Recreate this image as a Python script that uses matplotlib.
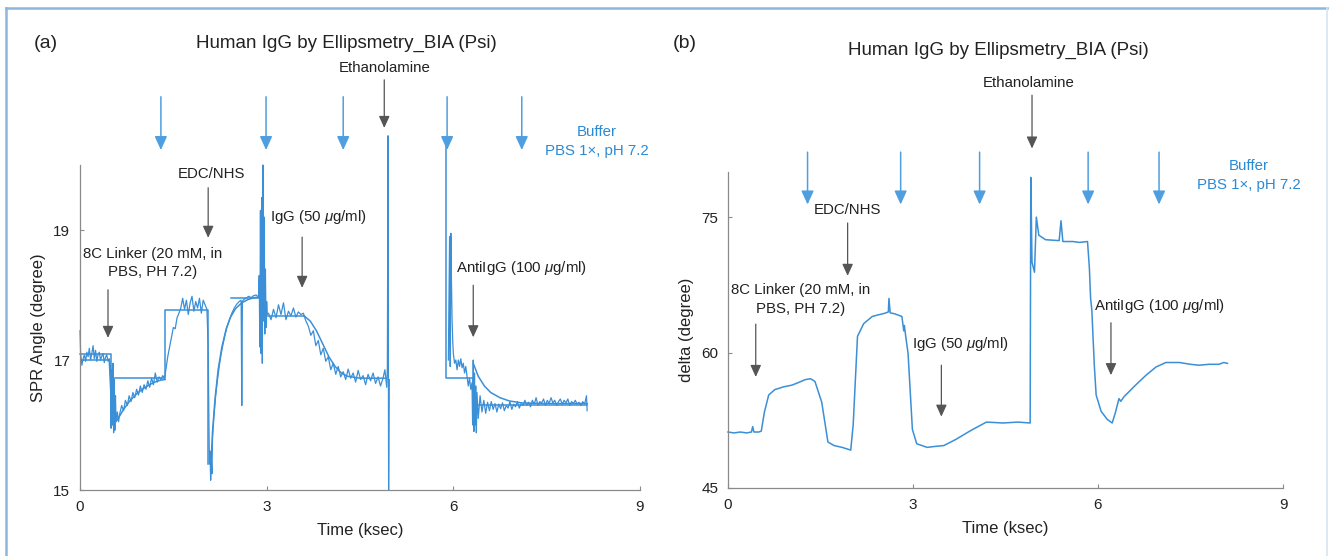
import numpy as np
import matplotlib
matplotlib.use("Agg")
import matplotlib.pyplot as plt

plt.rcParams['font.family'] = ['Liberation Sans', 'DejaVu Sans']
plt.rcParams['mathtext.fontset'] = 'custom'
plt.rcParams['mathtext.rm'] = 'Liberation Sans'
plt.rcParams['mathtext.it'] = 'Liberation Sans:italic'

nan = np.nan

# ---- panel (a): SPR angle, raw trace ----
raw_a_x = [0.00, 0.01, 0.03, 0.05, 0.07, 0.09, 0.11, 0.13, 0.15, 0.17, 0.19, 0.21, 0.23, 0.25, 0.27, 0.29,
           0.31, 0.33, 0.35, 0.37, 0.39, 0.41, 0.43, 0.45, 0.47,
           0.49, 0.50, 0.51, 0.52, 0.53, 0.54, 0.55, 0.56, 0.57, 0.58, 0.60, 0.62,
           0.64, 0.67, 0.70, 0.73, 0.76, 0.79, 0.82, 0.85, 0.88, 0.91, 0.94, 0.97, 1.00, 1.03, 1.06, 1.09,
           1.12, 1.15, 1.18, 1.21, 1.24, 1.27, 1.30, 1.33, 1.36,
           1.38, 1.41, 1.44, 1.47, 1.50, 1.53, 1.56, 1.59, 1.62, 1.65, 1.68, 1.71, 1.74, 1.77, 1.80, 1.83,
           1.86, 1.89, 1.92, 1.95, 1.98, 2.01, 2.04,
           2.06, 2.07, 2.08, 2.09, 2.10, 2.11, 2.12, 2.13, 2.15,
           2.18, 2.21, 2.24, 2.27, 2.30, 2.33, 2.36, 2.40, 2.44, 2.48, 2.52, 2.56, 2.59, 2.60, 2.61, 2.63,
           2.67, 2.71, 2.75, 2.79, 2.83, 2.87,
           2.88, 2.89, 2.90, 2.91, 2.92, 2.93, 2.94, 2.95, 2.96, 2.97, 2.98, 2.99, 3.00, 3.01,
           3.03, 3.07, 3.11, 3.15, 3.19, 3.23, 3.27, 3.31, 3.35, 3.39, 3.43, 3.47, 3.51, 3.55, 3.59, 3.63,
           3.67, 3.71, 3.75, 3.79, 3.83, 3.87, 3.91, 3.95, 3.99, 4.03, 4.07, 4.11, 4.15, 4.19, 4.23, 4.27,
           4.31, 4.35, 4.39, 4.43, 4.47, 4.51, 4.55, 4.59, 4.63, 4.67, 4.71, 4.75, 4.79, 4.83, 4.87, 4.90,
           4.93, 4.94, 4.95, 4.96, 4.97, nan,
           5.92, 5.94, 5.95, 5.96, 5.97, 5.98, 5.99, 6.00, 6.02, 6.04, 6.06, 6.08, 6.10, 6.12, 6.14, 6.16,
           6.18, 6.20, 6.22, 6.24, 6.26, 6.28, 6.30, 6.31, 6.32, 6.33, 6.34, 6.35, 6.36, 6.37, 6.38, 6.40,
           6.43, 6.46, 6.49, 6.52, 6.55, 6.58, 6.61, 6.64, 6.67, 6.70, 6.73, 6.76, 6.79, 6.82, 6.85, 6.88,
           6.91, 6.94, 6.97, 7.00, 7.03, 7.06, 7.09, 7.12, 7.15, 7.18, 7.21, 7.24, 7.27, 7.30, 7.33, 7.36,
           7.39, 7.42, 7.45, 7.48, 7.51, 7.54, 7.57, 7.60, 7.63, 7.66, 7.69, 7.72, 7.75, 7.78, 7.81, 7.84,
           7.87, 7.90, 7.93, 7.96, 7.99, 8.02, 8.05, 8.08, 8.11, 8.14, 8.15]
raw_a_y = [17.45, 17.10, 16.92, 17.02, 17.08, 16.98, 17.12, 17.05, 17.18, 17.00, 17.10, 17.22, 17.02, 17.15, 16.98, 17.08,
           17.12, 17.00, 17.06, 17.10, 16.96, 17.04, 17.08, 16.98, 17.02,
           16.90, 15.95, 16.85, 16.05, 16.95, 15.88, 16.70, 15.92, 16.45, 16.05, 16.20, 16.05,
           16.18, 16.30, 16.22, 16.38, 16.30, 16.45, 16.36, 16.50, 16.42, 16.55, 16.46, 16.60, 16.50, 16.62, 16.55, 16.68,
           16.58, 16.72, 16.62, 16.80, 16.66, 16.74, 16.70, 16.76, 16.72,
           16.85, 17.05, 17.20, 17.35, 17.50, 17.48, 17.65, 17.72, 17.80, 17.95, 17.78, 17.92, 17.70, 17.88, 17.98, 17.75,
           17.90, 17.80, 17.95, 17.72, 17.92, 17.85, 17.78,
           17.20, 16.20, 15.40, 15.60, 15.15, 15.50, 15.25, 15.80, 16.10,
           16.45, 16.70, 16.92, 17.10, 17.25, 17.38, 17.50, 17.62, 17.72, 17.80, 17.86, 17.90, 17.92, 16.30, 17.90, 17.93,
           17.95, 17.98, 17.96, 17.99, 18.00, 17.97,
           18.30, 17.20, 19.30, 17.10, 19.50, 16.95, 20.00, 17.60, 19.20, 17.40, 18.40, 17.50, 17.90, 17.70,
           17.72, 17.62, 17.78, 17.65, 17.85, 17.70, 17.88, 17.62, 17.75, 17.68, 17.80, 17.66, 17.74, 17.70, 17.72, 17.60,
           17.52, 17.38, 17.45, 17.22, 17.30, 17.08, 17.18, 16.98, 17.05, 16.85, 16.95, 16.78, 16.90, 16.74, 16.82, 16.70,
           16.86, 16.72, 16.80, 16.66, 16.84, 16.70, 16.76, 16.62, 16.78, 16.68, 16.80, 16.64, 16.74, 16.60, 16.72, 16.85,
           16.58, 16.90, 20.45, 15.00, 16.70, nan,
           17.00, 18.90, 16.90, 18.95, 18.20, 17.60, 17.30, 17.10, 16.95, 17.00, 16.85, 17.00, 16.90, 17.02, 16.88, 16.95,
           16.80, 16.90, 16.75, 16.60, 16.72, 16.55, 16.65, 16.00, 17.00, 15.90, 16.80, 16.00, 16.60, 15.88, 16.50, 16.10,
           16.45, 16.20, 16.38, 16.18, 16.35, 16.22, 16.36, 16.24, 16.33, 16.20, 16.32, 16.25, 16.34, 16.22, 16.30, 16.26,
           16.36, 16.24, 16.32, 16.28, 16.36, 16.26, 16.33, 16.30, 16.38, 16.30, 16.35, 16.28, 16.38, 16.32, 16.42, 16.30,
           16.36, 16.34, 16.40, 16.30, 16.38, 16.33, 16.42, 16.34, 16.38, 16.30, 16.36, 16.40, 16.32, 16.38, 16.34, 16.40,
           16.30, 16.36, 16.33, 16.38, 16.32, 16.35, 16.30, 16.36, 16.32, 16.45, 16.22]

# smooth fitted curves (segments split by nan)
fit_a_x = [0.02, 0.47, 0.52, 0.60, 0.70, 0.80, 0.90, 1.00, 1.10, 1.20, 1.30, 1.37, nan,
           2.10, 2.13, 2.17, 2.22, 2.28, 2.35, 2.42, 2.50, 2.60, 2.70, 2.80, 2.90, nan,
           3.60, 3.70, 3.80, 3.90, 4.00, 4.10, 4.20, 4.30, 4.50, 4.90, nan,
           6.32, 6.40, 6.50, 6.60, 6.75, 6.90, 7.10, 7.40, 8.15]
fit_a_y = [17.00, 17.00, 16.00, 16.08, 16.24, 16.37, 16.47, 16.55, 16.61, 16.66, 16.69, 16.70, nan,
           15.30, 15.90, 16.40, 16.85, 17.20, 17.48, 17.66, 17.79, 17.88, 17.93, 17.96, 17.97, nan,
           17.68, 17.60, 17.45, 17.25, 17.05, 16.90, 16.80, 16.75, 16.72, 16.72, nan,
           16.95, 16.75, 16.60, 16.50, 16.42, 16.37, 16.34, 16.33, 16.33]

# piecewise-constant model trace
step_a_x = [0.00, 0.50, 0.50, 1.37, 1.37, 2.06, 2.06, nan,
            2.42, 2.97, 2.97, 3.60, nan,
            5.88, 5.88, 6.32, 6.32, 8.15]
step_a_y = [17.10, 17.10, 16.72, 16.72, 17.77, 17.77, 15.40, nan,
            17.95, 17.95, 17.68, 17.68, nan,
            20.30, 16.72, 16.72, 16.31, 16.31]

# ---- panel (b): delta ----
delta_x = [0.00, 0.10, 0.20, 0.30, 0.38, 0.40, 0.42, 0.50, 0.54, 0.59, 0.66, 0.76, 0.90, 1.04, 1.15, 1.25, 1.34,
           1.41, 1.52, 1.62, 1.72, 1.85, 1.99, 2.03, 2.10, 2.20, 2.34, 2.45, 2.54, 2.60, 2.61, 2.63, 2.70,
           2.82, 2.85, 2.86, 2.88, 2.92, 2.99, 3.06, 3.23, 3.35, 3.50, 3.70, 3.92, 4.19, 4.46, 4.70, 4.90,
           4.91, 4.93, 4.97, 5.00, 5.04, 5.15, 5.37, 5.40, 5.43, 5.59, 5.70, 5.83, 5.86, 5.88, 5.90, 5.94,
           5.97, 6.05, 6.15, 6.23, 6.28, 6.34, 6.37, 6.42, 6.61, 6.78, 6.94, 7.10, 7.32, 7.50, 7.64, 7.80,
           7.96, 8.04, 8.10]
delta_y = [51.2, 51.1, 51.2, 51.1, 51.2, 51.8, 51.2, 51.2, 51.3, 53.4, 55.3, 55.9, 56.2, 56.4, 56.7, 57.0, 57.1,
           56.8, 54.5, 50.1, 49.7, 49.5, 49.2, 52.0, 61.8, 63.2, 64.0, 64.2, 64.35, 64.5, 66.0, 64.4, 64.3,
           64.0, 62.4, 63.0, 61.9, 59.9, 51.5, 49.9, 49.5, 49.6, 49.7, 50.4, 51.3, 52.3, 52.2, 52.3, 52.2,
           79.4, 70.0, 68.9, 75.0, 73.0, 72.5, 72.4, 74.6, 72.3, 72.3, 72.2, 72.3, 69.4, 66.0, 64.7, 58.6,
           55.3, 53.5, 52.6, 52.2, 53.3, 54.9, 54.6, 55.1, 56.4, 57.5, 58.4, 58.9, 58.9, 58.7, 58.6, 58.7,
           58.7, 58.9, 58.8]

# ---- annotations (label, text x, text y, arrow x, arrow top y, arrow tip y) ----
notes_a = [("Ethanolamine", 4.89, 21.49, 4.89, 21.31, 20.57),
           ("EDC/NHS", 2.11, 19.86, 2.06, 19.65, 18.88),
           ("IgG (50 $\\mu$g/ml)", 3.84, 19.20, 3.57, 18.89, 18.11),
           ("AntiIgG (100 $\\mu$g/ml)", 7.10, 18.42, 6.32, 18.15, 17.35)]
linker_a = (1.17, 18.63, 18.35, 0.45, 18.08, 17.34)
buffer_x_a = [1.30, 2.99, 4.23, 5.90, 7.10]
buffer_y_a = (21.05, 20.23)
buffer_text_a = (8.30, 20.51, 20.22)

notes_b = [("Ethanolamine", 4.87, 89.9, 4.93, 88.5, 82.6),
           ("EDC/NHS", 1.94, 75.76, 1.94, 74.35, 68.5),
           ("IgG (50 $\\mu$g/ml)", 3.77, 61.0, 3.46, 58.6, 52.9),
           ("AntiIgG (100 $\\mu$g/ml)", 7.00, 65.2, 6.21, 63.3, 57.5)]
linker_b = (1.18, 66.96, 64.8, 0.45, 63.15, 57.3)
buffer_x_b = [1.29, 2.80, 4.08, 5.84, 6.99]
buffer_y_b = (82.2, 76.4)
buffer_text_b = (8.45, 80.65, 78.6)

LINE = '#3b8fd6'
BLUE_TXT = '#2a8ad4'
BLUE_ARR = '#4f9fe0'
GREY = '#8a8a8a'
TXT = '#222222'

W, H = 1329, 556
fig = plt.figure(figsize=(W / 100, H / 100), dpi=100)
ax_a = fig.add_axes([80 / W, 1 - 490 / H, 560 / W, 325 / H])
ax_b = fig.add_axes([728 / W, 1 - 488 / H, 555 / W, 316 / H])

ax_a.plot(step_a_x, step_a_y, color=LINE, lw=1.1, clip_on=False)
ax_a.plot(fit_a_x, fit_a_y, color=LINE, lw=1.1, clip_on=False)
ax_a.plot(raw_a_x, raw_a_y, color=LINE, lw=0.9, clip_on=False)
ax_b.plot(delta_x, delta_y, color=LINE, lw=1.1, clip_on=False)

for ax, ylim, yticks, ylab in [(ax_a, (15, 20), [15, 17, 19], "SPR Angle (degree)"),
                               (ax_b, (45, 80), [45, 60, 75], "delta (degree)")]:
    ax.set_xlim(0, 9)
    ax.set_ylim(*ylim)
    ax.set_xticks([0, 3, 6, 9])
    ax.set_yticks(yticks)
    for s in ['top', 'right']:
        ax.spines[s].set_visible(False)
    for s in ['left', 'bottom']:
        ax.spines[s].set_color(GREY)
        ax.spines[s].set_linewidth(0.9)
    ax.tick_params(direction='in', length=3, width=0.8, color=GREY, labelsize=11,
                   labelcolor=TXT, pad=7)
    ax.set_xlabel("Time (ksec)", fontsize=12, labelpad=7, color=TXT)
    ax.set_ylabel(ylab, fontsize=12, labelpad=5, color=TXT)
    ax.patch.set_alpha(0)


def arrow(ax, x, y0, y1, color, lw, ms):
    ax.annotate("", xy=(x, y1), xytext=(x, y0), annotation_clip=False,
                arrowprops=dict(arrowstyle='-|>,head_length=0.55,head_width=0.25', color=color,
                                lw=lw, shrinkA=0, shrinkB=0, mutation_scale=ms))


for ax, notes, linker, bx, by, bt in [(ax_a, notes_a, linker_a, buffer_x_a, buffer_y_a, buffer_text_a),
                                      (ax_b, notes_b, linker_b, buffer_x_b, buffer_y_b, buffer_text_b)]:
    for label, tx, ty, axx, ay0, ay1 in notes:
        ax.text(tx, ty, label, ha='center', va='center', fontsize=10.8, color=TXT, clip_on=False)
        arrow(ax, axx, ay0, ay1, '#555555', 0.9, 13)
    tx, ty1, ty2, axx, ay0, ay1 = linker
    ax.text(tx, ty1, "8C Linker (20 mM, in", ha='center', va='center', fontsize=10.8, color=TXT)
    ax.text(tx, ty2, "PBS, PH 7.2)", ha='center', va='center', fontsize=10.8, color=TXT)
    arrow(ax, axx, ay0, ay1, '#555555', 0.9, 13)
    for x in bx:
        arrow(ax, x, by[0], by[1], BLUE_ARR, 1.1, 15)
    ax.text(bt[0], bt[1], "Buffer", ha='center', va='center', fontsize=10.8, color=BLUE_TXT)
    ax.text(bt[0], bt[2], "PBS 1\u00d7, pH 7.2", ha='center', va='center', fontsize=10.8, color=BLUE_TXT)

title = "Human IgG by Ellipsmetry_BIA (Psi)"
fig.text(346 / W, 1 - 43 / H, title, ha='center', va='center', fontsize=13.5, color=TXT)
fig.text(998 / W, 1 - 50 / H, title, ha='center', va='center', fontsize=13.5, color=TXT)
fig.text(34 / W, 1 - 43 / H, "(a)", ha='left', va='center', fontsize=14, color=TXT)
fig.text(673 / W, 1 - 43 / H, "(b)", ha='left', va='center', fontsize=14, color=TXT)

# outer frame
frame = '#8cb6e0'
fig.add_artist(plt.Line2D([6 / W, 1327 / W], [1 - 8 / H, 1 - 8 / H], color=frame, lw=1.8))
fig.add_artist(plt.Line2D([6 / W, 6 / W], [1 - 8 / H, 0], color=frame, lw=1.8))
fig.add_artist(plt.Line2D([1327 / W, 1327 / W], [1 - 8 / H, 0], color='#d6e4f2', lw=1.2))

fig.savefig("out.png", dpi=100)
